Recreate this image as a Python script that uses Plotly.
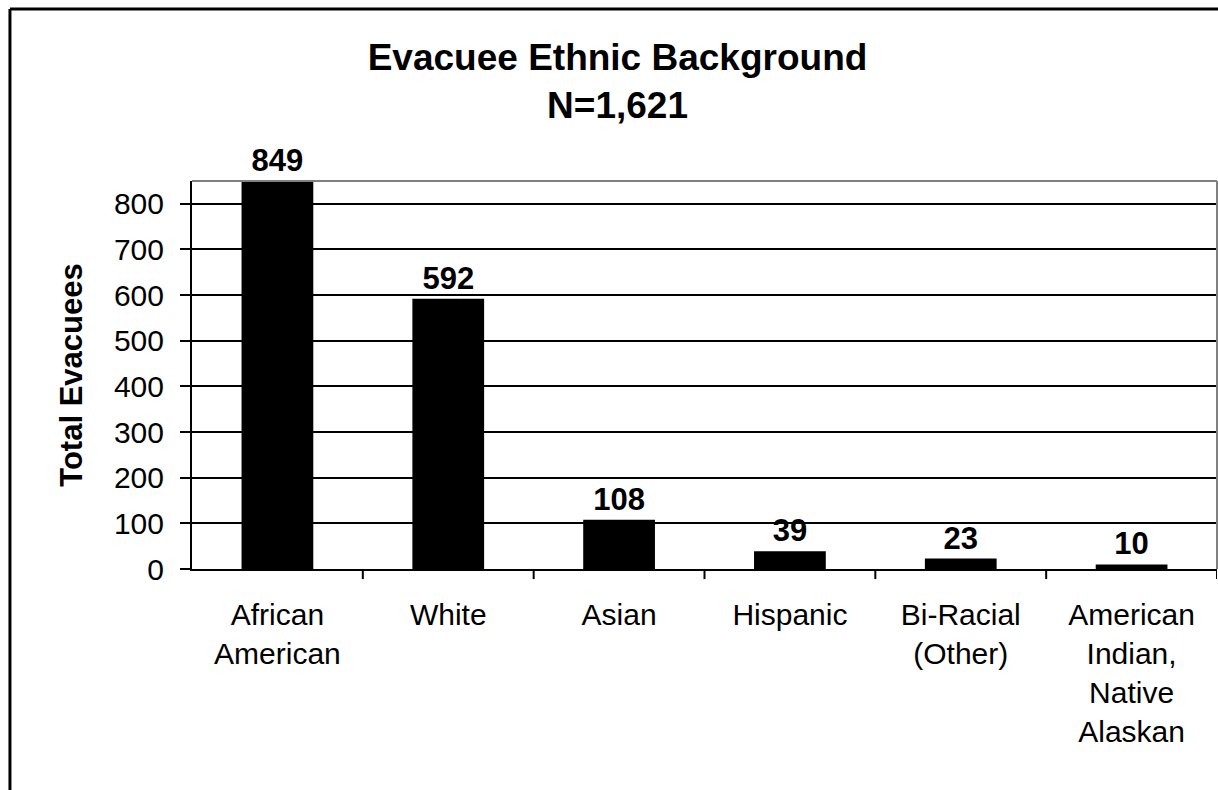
import plotly.graph_objects as go

categories = ["African<br>American", "White", "Asian", "Hispanic", "Bi-Racial<br>(Other)",
              "American<br>Indian,<br>Native<br>Alaskan"]
values = [849, 592, 108, 39, 23, 10]
y_ticks = [0, 100, 200, 300, 400, 500, 600, 700, 800]

FONT = "Liberation Sans, Arial, sans-serif"

fig = go.Figure()
fig.add_trace(go.Bar(
    x=categories, y=values,
    marker=dict(color="black", line=dict(width=0)),
    text=[str(v) for v in values],
    textposition="outside",
    textfont=dict(family=FONT, size=31, color="black", weight="bold"),
    cliponaxis=False,
    width=0.42,
))

fig.update_layout(
    width=1218, height=790,
    margin=dict(l=192, r=1, t=181, b=221),
    paper_bgcolor="white", plot_bgcolor="white",
    showlegend=False,
    font=dict(family=FONT, color="black"),
    title=dict(text="<b>Evacuee Ethnic Background<br>N=1,621</b>",
               x=0.507, xanchor="center", y=0.911, yanchor="middle",
               font=dict(size=37, family=FONT, color="black")),
    xaxis=dict(showline=True, linecolor="black", linewidth=2,
               ticks="", tickfont=dict(size=30), showgrid=False,
               ticklabelstandoff=18,
               range=[-0.5, 5.5]),
    yaxis=dict(range=[0, 850], tickvals=y_ticks, showline=True, linecolor="black", linewidth=2,
               ticks="outside", ticklen=10, tickwidth=2, tickcolor="black",
               showgrid=True, gridcolor="black", gridwidth=1.6,
               tickfont=dict(size=30), zeroline=False, ticklabelstandoff=10,
               title=dict(text="<b>Total Evacuees</b>", font=dict(size=31), standoff=22)),
)

# category boundary tick marks on x axis
for i in range(1, 7):
    fig.add_shape(type="line", xref="x", yref="paper", x0=i - 0.5, x1=i - 0.5,
                  y0=0, y1=-0.026, line=dict(color="black", width=2))
# gray plot-area frame (top and right)
fig.add_shape(type="line", xref="paper", yref="paper", x0=0, x1=1, y0=1, y1=1,
              line=dict(color="#808080", width=2))
fig.add_shape(type="line", xref="paper", yref="paper", x0=1, x1=1, y0=0, y1=1,
              line=dict(color="#808080", width=2))
# outer chart border (top and left)
fig.add_shape(type="line", xref="paper", yref="paper", x0=-0.1776, x1=1.1, y0=1.443, y1=1.443,
              line=dict(color="black", width=3))
fig.add_shape(type="line", xref="paper", yref="paper", x0=-0.1776, x1=-0.1776, y0=1.443, y1=-0.6,
              line=dict(color="black", width=3))

fig.write_html("out.html")
